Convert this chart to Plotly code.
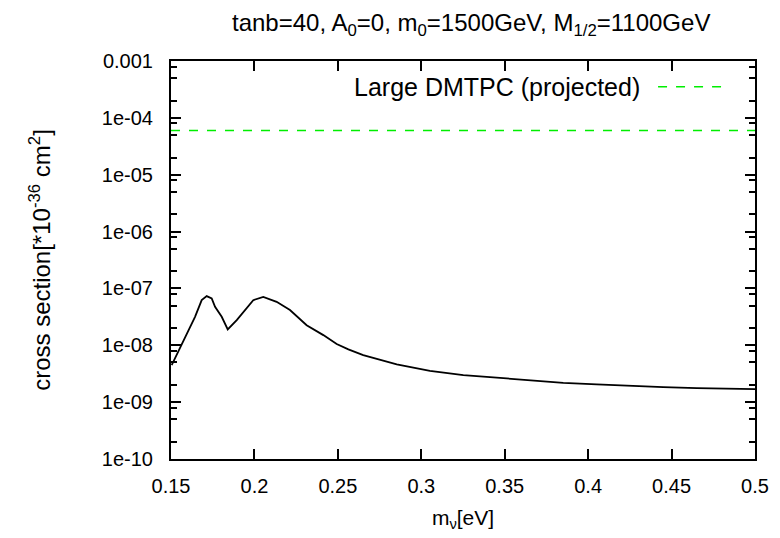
import plotly.graph_objects as go

# Curve data
m_nu = [0.1504, 0.1554, 0.1604, 0.1644, 0.1684, 0.1714, 0.1744, 0.1764, 0.1804, 0.1840,
        0.1894, 0.1954, 0.1993, 0.2053, 0.2133, 0.2213, 0.2313, 0.2413, 0.2493, 0.2563,
        0.2652, 0.2853, 0.3052, 0.3252, 0.3452, 0.3652, 0.3851, 0.4051, 0.4251, 0.4450,
        0.4651, 0.4850, 0.5000]
sigma = [4.49e-9, 8.83e-9, 1.85e-8, 3.17e-8, 6.22e-8, 7.32e-8, 6.67e-8, 4.75e-8, 3.17e-8, 1.90e-8,
         2.77e-8, 4.45e-8, 6.22e-8, 7.11e-8, 5.81e-8, 4.16e-8, 2.26e-8, 1.51e-8, 1.05e-8, 8.47e-9,
         6.73e-9, 4.62e-9, 3.56e-9, 2.99e-9, 2.69e-9, 2.38e-9, 2.19e-9, 2.06e-9, 1.92e-9, 1.84e-9,
         1.77e-9, 1.70e-9, 1.69e-9]

dmtpc_x = [0.15, 0.5]
dmtpc_y = [6e-5, 6e-5]
dmtpc_label = "Large DMTPC (projected)"

x_ticks = [0.15, 0.2, 0.25, 0.3, 0.35, 0.4, 0.45, 0.5]
x_ticktext = ["0.15", "0.2", "0.25", "0.3", "0.35", "0.4", "0.45", "0.5"]
y_ticks = [1e-3, 1e-4, 1e-5, 1e-6, 1e-7, 1e-8, 1e-9, 1e-10]
y_ticktext = ["0.001", "1e-04", "1e-05", "1e-06", "1e-07", "1e-08", "1e-09", "1e-10"]
y_minor = [m * 10.0 ** e for e in range(-10, -3) for m in (2, 5, 8)]

FONT = "Liberation Sans"
TICK_SIZE = 20

fig = go.Figure()
fig.add_trace(go.Scatter(x=dmtpc_x, y=dmtpc_y, mode="lines",
                         line=dict(color="#00ee00", width=1.5, dash="dash"),
                         showlegend=False, hoverinfo="skip"))
fig.add_trace(go.Scatter(x=m_nu, y=sigma, mode="lines",
                         line=dict(color="black", width=1.8),
                         showlegend=False))

axis_common = dict(showline=True, linecolor="black", linewidth=2, mirror="allticks",
                   ticks="inside", ticklen=10, tickwidth=1.5, tickcolor="black",
                   showgrid=False, zeroline=False,
                   tickfont=dict(family=FONT, size=TICK_SIZE, color="black"))

fig.update_xaxes(range=[0.15, 0.5], tickmode="array", tickvals=x_ticks, ticktext=x_ticktext,
                 ticklabelstandoff=8,
                 title=dict(text="m<sub>ν</sub>[eV]",
                            font=dict(family=FONT, size=21, color="black"),
                            standoff=14),
                 **axis_common)
fig.update_yaxes(type="log", range=[-10, -3], tickmode="array", tickvals=y_ticks,
                 ticktext=y_ticktext, ticklabelstandoff=12,
                 minor=dict(tickmode="array", tickvals=y_minor, ticks="inside", ticklen=6,
                            tickwidth=1.5, tickcolor="black", showgrid=False),
                 title=dict(text="cross section[*10<sup>-36</sup> cm<sup>2</sup>]",
                            font=dict(family=FONT, size=24, color="black"),
                            standoff=44),
                 **axis_common)

fig.update_layout(
    width=772, height=530,
    margin=dict(l=163, r=25, t=53, b=79),
    paper_bgcolor="white", plot_bgcolor="white",
    font=dict(family=FONT, size=TICK_SIZE, color="black"),
    title=dict(text="tanb=40, A<sub>0</sub>=0, m<sub>0</sub>=1500GeV, M<sub>1/2</sub>=1100GeV",
               x=0.600, xanchor="center", y=0.972, yanchor="middle",
               font=dict(family=FONT, size=24, color="black")),
)

# Legend (gnuplot style: text right-aligned, sample to its right)
fig.add_annotation(x=0.806, y=0.935, xref="paper", yref="paper", text=dmtpc_label,
                   showarrow=False, xanchor="right", yanchor="middle",
                   font=dict(family=FONT, size=25, color="black"))
fig.add_shape(type="line", xref="paper", yref="paper", x0=0.834, x1=0.950, y0=0.935, y1=0.935,
              line=dict(color="#00ee00", width=1.5, dash="dash"))

fig.write_html("out.html")
